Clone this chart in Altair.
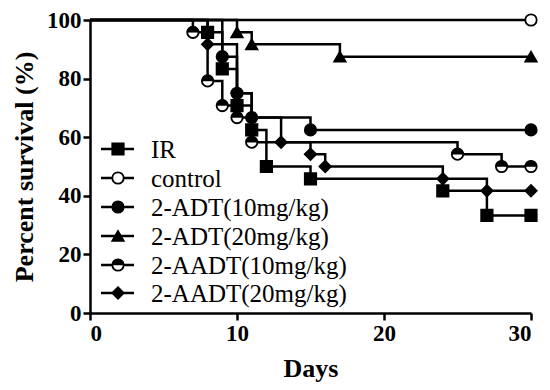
import altair as alt
import pandas as pd

series = ["IR", "control", "2-ADT(10mg/kg)", "2-ADT(20mg/kg)", "2-AADT(10mg/kg)", "2-AADT(20mg/kg)"]
ir_days = [8, 9, 10, 11, 12, 15, 24, 27]
ir_surv = [95.8, 83.3, 70.8, 62.5, 50.0, 45.8, 41.7, 33.3]
control_days = []
control_surv = []
adt10_days = [9, 10, 11, 15]
adt10_surv = [87.5, 75.0, 66.7, 62.5]
adt20_days = [10, 11, 17]
adt20_surv = [95.8, 91.7, 87.5]
aadt10_days = [7, 8, 9, 10, 11, 25, 28]
aadt10_surv = [95.8, 79.2, 70.8, 66.7, 58.3, 54.2, 50.0]
aadt20_days = [8, 10, 11, 13, 15, 16, 24, 27]
aadt20_surv = [91.7, 75.0, 66.7, 58.3, 54.2, 50.0, 45.8, 41.7]
start_day = 0
end_day = 30
start_surv = 100.0

all_days = [ir_days, control_days, adt10_days, adt20_days, aadt10_days, aadt20_days]
all_surv = [ir_surv, control_surv, adt10_surv, adt20_surv, aadt10_surv, aadt20_surv]

shapes = ["square", "circle", "circle", "triangle-up", "circle", "diamond"]
fills = ["black", "white", "black", "black", "white", "black"]
half_top = "M -1 0 A 1 1 0 0 1 1 0 Z"

line_rows, mark_rows = [], []
for i, (name, d, s) in enumerate(zip(series, all_days, all_surv)):
    last = s[-1] if s else start_surv
    line_rows.append({"series": name, "order": i, "day": start_day, "surv": start_surv})
    for dd, ss in zip(d, s):
        line_rows.append({"series": name, "order": i, "day": dd, "surv": ss})
        mark_rows.append({"series": name, "order": i, "day": dd, "surv": ss})
    line_rows.append({"series": name, "order": i, "day": end_day, "surv": last})
    mark_rows.append({"series": name, "order": i, "day": end_day, "surv": last})

lines_df = pd.DataFrame(line_rows)
marks_df = pd.DataFrame(mark_rows)

FONT = "Liberation Serif"

x_enc = alt.X("day:Q", scale=alt.Scale(domain=[0, 30], nice=False, zero=True),
              axis=alt.Axis(values=[0, 10, 20, 30], title="Days", format="d"))
y_enc = alt.Y("surv:Q", scale=alt.Scale(domain=[0, 100], nice=False),
              axis=alt.Axis(values=[0, 20, 40, 60, 80, 100], title="Percent survival (%)", format="d"))

shape_scale = alt.Scale(domain=series, range=shapes)
fill_scale = alt.Scale(domain=series, range=fills)

lines = alt.Chart(lines_df).mark_line(interpolate="step-after", color="black", strokeWidth=2.5, clip=False).encode(
    x=x_enc, y=y_enc, detail="series:N", order="day:Q")

pts = alt.Chart(marks_df).mark_point(size=130, stroke="black", strokeWidth=1.8, opacity=1, filled=False).encode(
    x="day:Q", y="surv:Q",
    shape=alt.Shape("series:N", scale=shape_scale, legend=None),
    fill=alt.Fill("series:N", scale=fill_scale, legend=None))

half = alt.Chart(marks_df).transform_filter(alt.datum.series == "2-AADT(10mg/kg)").mark_point(
    size=130, shape=half_top, fill="black", filled=True, stroke="black", strokeWidth=0.5, opacity=1).encode(
    x="day:Q", y="surv:Q")

layers = [lines, pts, half]

legend_y = [129, 158, 187, 216, 245, 273]
for name, ly, shp, fl in zip(series, legend_y, shapes, fills):
    ldf = pd.DataFrame({"label": [name]})
    base = alt.Chart(ldf)
    layers.append(base.mark_rule(color="black", strokeWidth=2.5).encode(
        x=alt.value(11), x2=alt.value(44), y=alt.value(ly)))
    layers.append(base.mark_point(shape=shp, size=130, fill=fl, filled=True, stroke="black",
                                  strokeWidth=1.8, opacity=1).encode(x=alt.value(28), y=alt.value(ly)))
    if name == "2-AADT(10mg/kg)":
        layers.append(base.mark_point(shape=half_top, size=130, fill="black", filled=True, stroke="black",
                                      strokeWidth=0.5, opacity=1).encode(x=alt.value(28), y=alt.value(ly)))
    layers.append(base.mark_text(align="left", baseline="middle", font=FONT, fontSize=25, color="black").encode(
        x=alt.value(61), y=alt.value(ly + 1), text="label:N"))

chart = alt.layer(*layers).properties(
    width=441, height=293,
    autosize=alt.AutoSizeParams(type="none"),
    padding={"left": 82, "top": 12, "right": 11, "bottom": 69}
).configure_view(stroke=None).configure_axis(
    grid=False, domainColor="black", domainWidth=2.5, tickColor="black", tickWidth=2.5, tickSize=7,
    labelFont=FONT, labelFontSize=23, labelFontWeight="bold", labelColor="black", labelPadding=2,
    titleFont=FONT, titleFontSize=26, titleFontWeight="bold", titleColor="black"
).configure_axisX(titlePadding=10).configure_axisY(titlePadding=9)

chart.save("out.html", embed_options={"renderer": "svg", "actions": False})
